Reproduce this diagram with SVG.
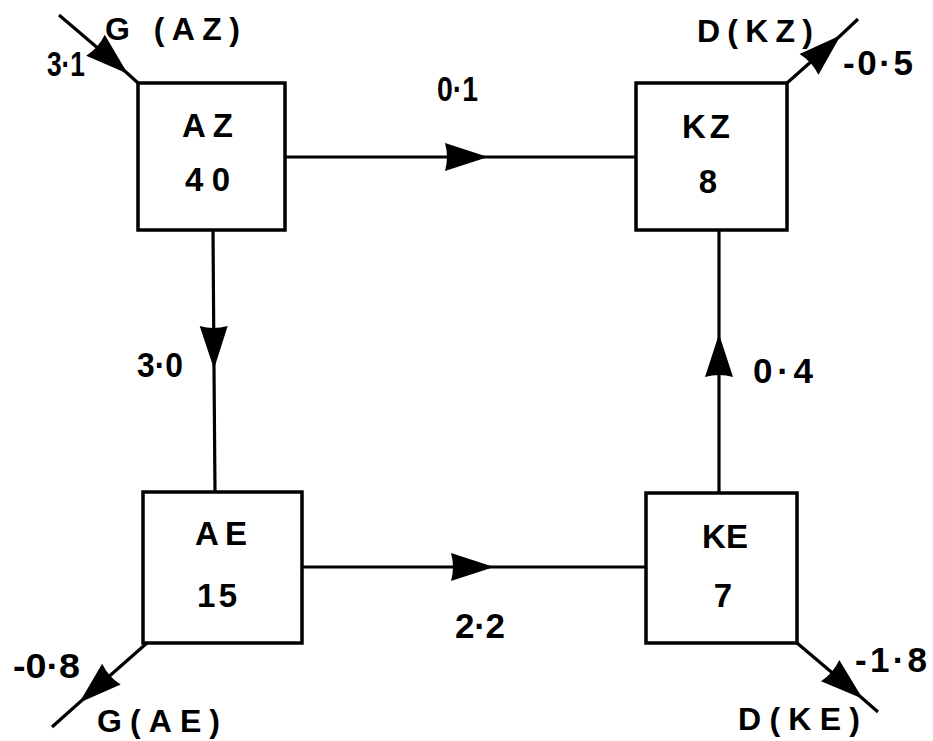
<svg xmlns="http://www.w3.org/2000/svg" width="933" height="741" viewBox="0 0 933 741">
<style>
.box{fill:#fff;stroke:#000;stroke-width:3.5}
.ln{fill:none;stroke:#000;stroke-width:3.2;marker-mid:url(#ah)}
text{font-family:"Liberation Sans",Arial,sans-serif;font-weight:bold;fill:#000}
.bl{font-size:33px}
.nm{font-size:35px}
.ed{font-size:32px}
</style>
<defs>
<marker id="ah" markerUnits="userSpaceOnUse" markerWidth="50" markerHeight="34" viewBox="-46 -17 50 34" refX="0" refY="0" orient="auto" overflow="visible">
<path d="M1,0 L-42,-14 Q-38,0 -42,14 Z" fill="#000"/>
</marker>
</defs>
<rect width="933" height="741" fill="#fff"/>
<g id="connectors">
<path class="ln" d="M285,157 L487,157 L636,157"/>
<path class="ln" d="M213,230 L214,368 L215,492"/>
<path class="ln" d="M719,493 L719,335 L719,230"/>
<path class="ln" d="M302,567 L493,567 L646,567"/>
<path class="ln" d="M59,15 L127,73 L138,83"/>
<path class="ln" d="M787,83 L840,36 L858,19"/>
<path class="ln" d="M147,643 L80,702 L52,727"/>
<path class="ln" d="M797,643 L862,698 L878,712"/>
</g>
<g id="AZ">
<rect class="box" x="138" y="83" width="147" height="147"/>
<text class="bl" x="182" y="137" textLength="51" lengthAdjust="spacing">AZ</text>
<text class="bl" x="185" y="191" textLength="45" lengthAdjust="spacing">40</text>
</g>
<g id="KZ">
<rect class="box" x="636" y="83" width="151" height="147"/>
<text class="bl" x="682" y="138" textLength="48" lengthAdjust="spacing">KZ</text>
<text class="bl" x="708" y="193" text-anchor="middle">8</text>
</g>
<g id="AE">
<rect class="box" x="143" y="492" width="159" height="151"/>
<text class="bl" x="195" y="545" textLength="52" lengthAdjust="spacing">AE</text>
<text class="bl" x="197" y="607" textLength="40" lengthAdjust="spacing">15</text>
</g>
<g id="KE">
<rect class="box" x="646" y="493" width="151" height="150"/>
<text class="bl" x="702" y="548" textLength="46" lengthAdjust="spacing">KE</text>
<text class="bl" x="723" y="607" text-anchor="middle">7</text>
</g>
<g id="labels">
<text class="ed" x="105" y="40" textLength="135" lengthAdjust="spacing">G (AZ)</text>
<text class="nm" x="47" y="76" textLength="38" lengthAdjust="spacingAndGlyphs">3·1</text>
<text class="ed" x="697" y="42" textLength="116" lengthAdjust="spacing">D(KZ)</text>
<text class="nm" x="843" y="75" textLength="70" lengthAdjust="spacing">-0·5</text>
<text class="nm" x="437" y="101" textLength="41" lengthAdjust="spacingAndGlyphs">0·1</text>
<text class="nm" x="137" y="377" textLength="46" lengthAdjust="spacingAndGlyphs">3·0</text>
<text class="nm" x="753" y="383" textLength="60" lengthAdjust="spacing">0·4</text>
<text class="nm" x="455" y="638" textLength="50" lengthAdjust="spacing">2·2</text>
<text class="nm" x="13" y="678" textLength="67" lengthAdjust="spacingAndGlyphs">-0·8</text>
<text class="ed" x="97" y="732" textLength="123" lengthAdjust="spacing">G(AE)</text>
<text class="nm" x="855" y="672" textLength="72" lengthAdjust="spacing">-1·8</text>
<text class="ed" x="738" y="730" textLength="122" lengthAdjust="spacing">D(KE)</text>
</g>
</svg>
